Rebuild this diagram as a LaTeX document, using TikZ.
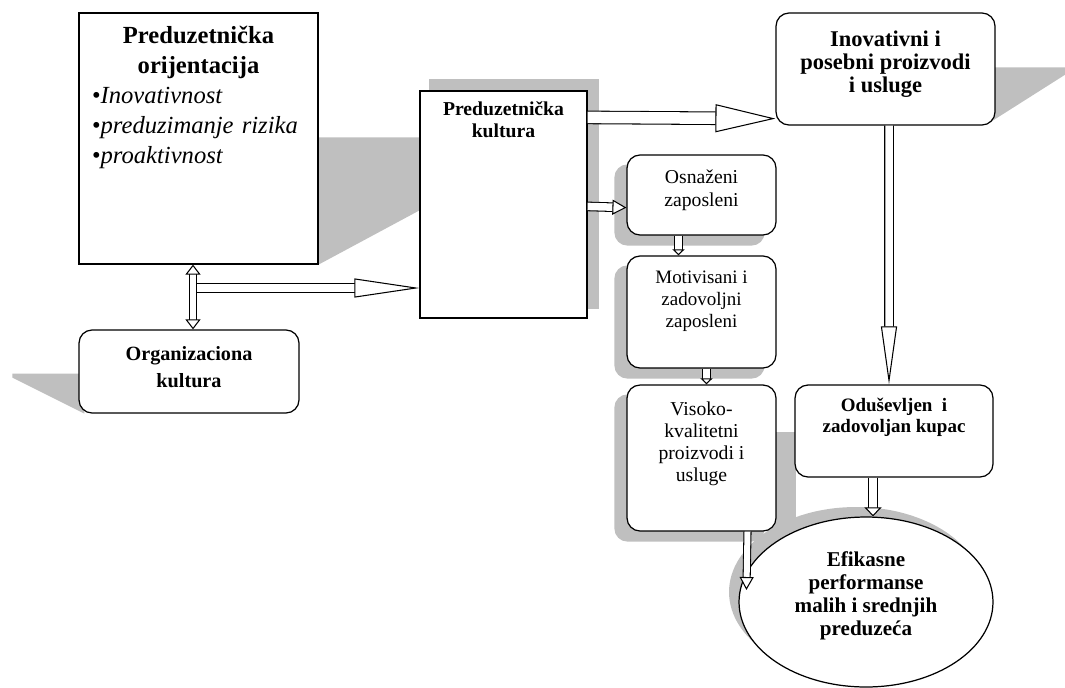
\documentclass[tikz,border=0pt]{standalone}
\usepackage{fontspec}
\setmainfont{Liberation Serif}
\usetikzlibrary{positioning,calc,arrows.meta,shapes.geometric,backgrounds}
\definecolor{shadowGray}{HTML}{BFBFBF}

\begin{document}
\begin{tikzpicture}[x=0.02cm, y=-0.02cm,
  sharpbox/.style={draw, line width=0.7pt, fill=white, inner sep=0pt},
  roundbox/.style={draw, line width=0.7pt, fill=white, rounded corners=0.26cm, inner sep=0pt},
  boxtext/.style={align=center, inner sep=0pt},
  hollow/.style n args={3}{draw, line width=0.6pt, double=white, double distance=#1,
    -{Triangle[length=#2, width=#3, fill=white]}},
  hollowtwo/.style n args={3}{draw, line width=0.6pt, double=white, double distance=#1,
    {Triangle[length=#2, width=#3, fill=white]}-{Triangle[length=#2, width=#3, fill=white]}},
]
  \useasboundingbox (0,0) rectangle (1065,687);

  % boxes
  \node[sharpbox, minimum width=4.78cm, minimum height=5.02cm] (po) at (198.5,138.5) {};
  \node[sharpbox, minimum width=3.34cm, minimum height=4.54cm] (pk) at (503.5,204.5) {};
  \node[roundbox, minimum width=4.38cm, minimum height=2.24cm] (in) at (885.5,69) {};
  \node[roundbox, minimum width=4.4cm, minimum height=1.66cm] (ok) at (189,371.5) {};
  \node[roundbox, minimum width=2.98cm, minimum height=1.6cm] (os) at (701.5,195) {};
  \node[roundbox, minimum width=2.98cm, minimum height=2.24cm] (mz) at (701.5,312) {};
  \node[roundbox, minimum width=2.98cm, minimum height=2.92cm] (vk) at (701.5,458) {};
  \node[roundbox, minimum width=3.96cm, minimum height=1.84cm] (od) at (894,431) {};
  \node[sharpbox, ellipse, minimum width=5.08cm, minimum height=3.4cm] (ef) at (866,602) {};

  % texts
  \node[below=0.26cm of po.north, text width=4.26cm, inner sep=0pt,
    font=\fontsize{14}{17.1}\selectfont] (potext)
    {{\centering\bfseries Preduzetnička\\orijentacija\par}
     {\raggedright\itshape
      {\upshape•}Inovativnost\par
      {\upshape•}preduzimanje rizika\par
      {\upshape•}proaktivnost\par}};
  \node[boxtext, below=0.21cm of pk.north, font=\bfseries\fontsize{11.2}{12.8}\selectfont] (pktext)
    {Preduzetnička\\kultura};
  \node[boxtext, below=0.36cm of in.north, font=\bfseries\fontsize{12.8}{13.2}\selectfont] (intext)
    {Inovativni i\\posebni proizvodi\\i usluge};
  \node[boxtext, below=0.34cm of ok.north, font=\bfseries\fontsize{11.5}{15.4}\selectfont] (oktext)
    {Organizaciona\\kultura};
  \node[boxtext, below=0.3cm of os.north, font=\fontsize{11.2}{13.1}\selectfont] (ostext)
    {Osnaženi\\zaposleni};
  \node[boxtext, below=0.3cm of mz.north, font=\fontsize{10.8}{12.5}\selectfont] (mztext)
    {Motivisani i\\zadovoljni\\zaposleni};
  \node[boxtext, below=0.34cm of vk.north, font=\fontsize{11.2}{12.5}\selectfont] (vktext)
    {Visoko-\\kvalitetni\\proizvodi i\\usluge};
  \node[boxtext, below=0.26cm of od.north, font=\bfseries\fontsize{10.8}{12}\selectfont] (odtext)
    {Oduševljen\ \ i\\zadovoljan kupac};
  \node[boxtext, below=-1.02cm of ef.center, font=\bfseries\fontsize{12}{13.1}\selectfont] (eftext)
    {Efikasne\\performanse\\malih i srednjih\\preduzeća};

  % shadows
  \begin{scope}[on background layer]
    \fill[shadowGray] ($(po.north east)+(0,125)$) -- ++(112,0) -- ++(0,67) -- (po.south east) -- cycle;
    \fill[shadowGray] ($(pk.north west)+(10,-11)$) rectangle ($(pk.south east)+(11,-10)$);
    \fill[shadowGray] ($(in.north east)+(-6,55)$) -- ++(76,0) -- ++(0,7) -- ($(in.south east)+(-6,-3)$) -- cycle;
    \fill[shadowGray] ($(ok.south west)+(6,-40)$) -- ++(-72,0) -- ++(0,4) -- ($(ok.south west)+(6,0)$) -- cycle;
    \foreach \b in {os,mz,vk}
      \fill[shadowGray, rounded corners=0.26cm] ($(\b.south west)+(-12,10)$) rectangle ($(\b.north east)+(-12,10)$);
    \fill[shadowGray] ($(od.west)+(-35,1)$) rectangle ($(od.south west)+(2,53)$);
    \fill[shadowGray] ($(ef.center)+(-10,-10)$) ellipse [x radius=2.54cm, y radius=1.7cm];
  \end{scope}

  % arrows
  \coordinate (split) at (193,288);
  \draw[hollow={0.17cm}{1.3cm}{0.38cm}] (split) -- (split -| pk.west);
  \draw[hollowtwo={0.13cm}{0.2cm}{0.3cm}] (po.south -| split) -- (ok.north -| split);
  \draw[hollow={0.23cm}{1.2cm}{0.56cm}] ($(pk.north east)+(0,27)$) -- ($(in.south west)+(0,-7)$);
  \draw[hollow={0.15cm}{0.28cm}{0.3cm}] ($(pk.north east)+(0,116)$) -- ($(os.south west)+(0,-28)$);
  \draw[hollow={0.13cm}{0.12cm}{0.24cm}] ($(os.south)+(-23,0)$) -- ($(mz.north)+(-23,0)$);
  \draw[hollow={0.13cm}{0.12cm}{0.24cm}] ($(mz.south)+(5,0)$) -- ($(vk.north)+(5,0)$);
  \draw[hollow={0.15cm}{1.16cm}{0.32cm}] ($(in.south)+(3.5,0)$) -- ($(od.north)+(-5,0)$);
  \draw[hollow={0.17cm}{0.18cm}{0.34cm}] ($(od.south)+(-21,0)$) -- ($(ef.north)+(7,0)$);
  \draw[hollow={0.12cm}{0.26cm}{0.28cm}] ($(vk.south)+(46,0)$) -- ($(ef.west)+(8,-12)$);
\end{tikzpicture}
\end{document}
